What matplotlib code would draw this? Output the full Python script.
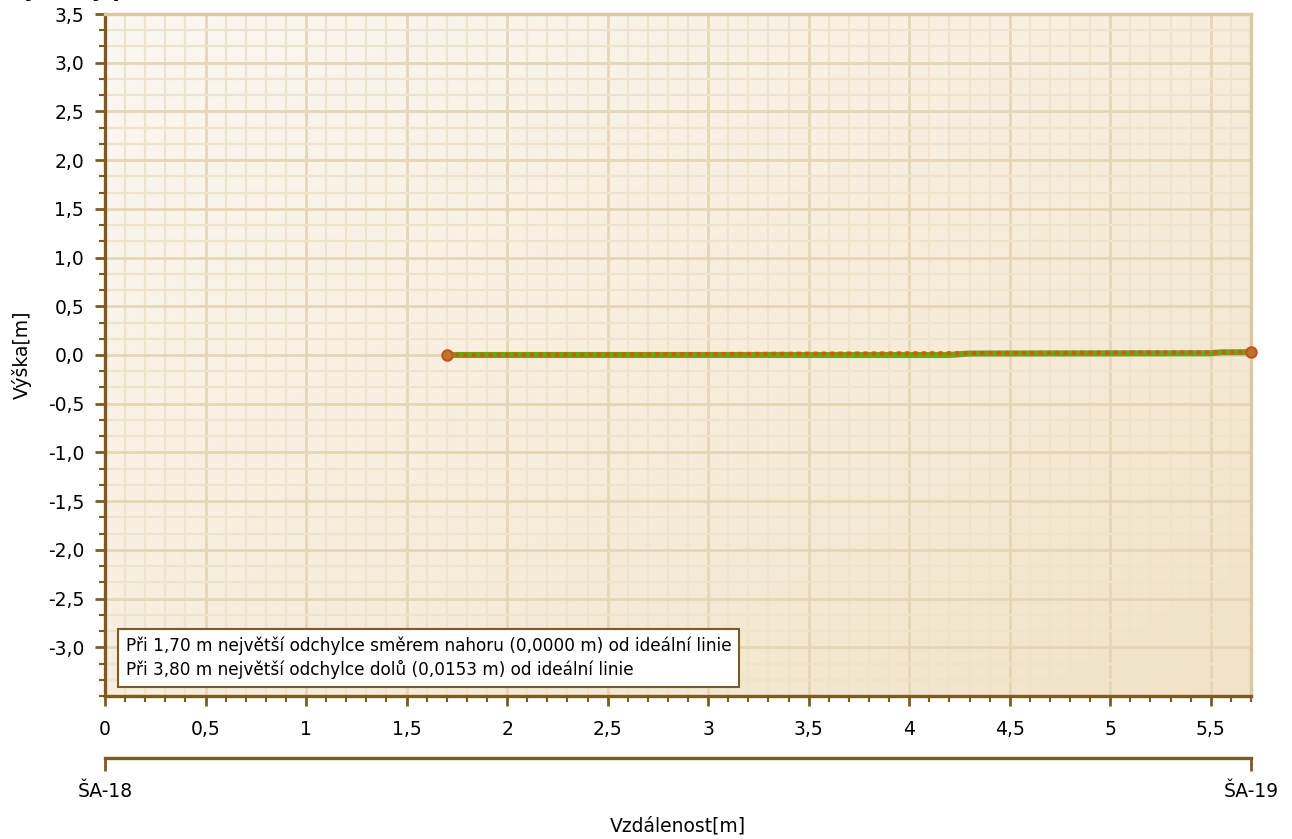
import numpy as np
import matplotlib
matplotlib.use("Agg")
import matplotlib.pyplot as plt
from matplotlib.ticker import FixedLocator, FuncFormatter, MultipleLocator
from matplotlib.colors import LinearSegmentedColormap

# ---- data ----
profile_x = [1.70, 4.20, 4.30, 5.50, 5.55, 5.70]
profile_y = [0.000, 0.000, 0.015, 0.018, 0.027, 0.029]
ideal_x = [1.70, 5.70]
ideal_y = [0.000, 0.029]
station_labels = ["ŠA-18", "ŠA-19"]
station_pos = [0.0, 5.7]
y_ticks = [-3.0, -2.5, -2.0, -1.5, -1.0, -0.5, 0.0, 0.5, 1.0, 1.5, 2.0, 2.5, 3.0, 3.5]
x_ticks = [0, 0.5, 1, 1.5, 2, 2.5, 3, 3.5, 4, 4.5, 5, 5.5]
info_lines = [
    "Při 1,70 m největší odchylce směrem nahoru (0,0000 m) od ideální linie",
    "Při 3,80 m největší odchylce dolů (0,0153 m) od ideální linie",
]
title = "Výškový profil"
xlabel = "Vzdálenost[m]"
ylabel = "Výška[m]"

plt.rcParams['font.family'] = ['DejaVu Sans']
W, H = 1292, 839
fig = plt.figure(figsize=(W / 100, H / 100), dpi=100)

L, R, T, B = 105, 1251, 14, 696
ax = fig.add_axes([L / W, 1 - B / H, (R - L) / W, (B - T) / H])
ax.set_xlim(0, 5.7)
ax.set_ylim(-3.5, 3.5)

# gradient background
n = 200
gx, gy = np.meshgrid(np.linspace(0, 1, n), np.linspace(0, 1, n))
g = (gx + gy) / 2
cmap = LinearSegmentedColormap.from_list("bg", ["#fbf8f2", "#f2e3c8"])
ax.imshow(g, cmap=cmap, extent=[0, 1, 0, 1], transform=ax.transAxes,
          aspect='auto', origin='upper', zorder=-10, interpolation='bilinear')

brown = "#7d5a22"
for s in ["left", "bottom"]:
    ax.spines[s].set_color(brown)
    ax.spines[s].set_linewidth(2.4)
for s in ["top", "right"]:
    ax.spines[s].set_color("#dcc9a2")
    ax.spines[s].set_linewidth(2.4)

ax.yaxis.set_major_locator(FixedLocator(y_ticks))
ax.yaxis.set_minor_locator(MultipleLocator(0.5 / 3))
ax.xaxis.set_major_locator(FixedLocator(x_ticks))
ax.xaxis.set_minor_locator(MultipleLocator(0.1))

def fmt_y(v, p):
    return ("%.1f" % v).replace(".", ",")

def fmt_x(v, p):
    return ("%g" % v).replace(".", ",")

ax.yaxis.set_major_formatter(FuncFormatter(fmt_y))
ax.xaxis.set_major_formatter(FuncFormatter(fmt_x))
ax.tick_params(axis='both', which='major', direction='out', length=7, width=2,
               color=brown, labelsize=13.5, pad=8)
ax.tick_params(axis='both', which='minor', direction='out', length=4, width=1.5,
               color=brown)
ax.tick_params(axis='x', which='major', pad=10)

ax.set_axisbelow(True)
ax.grid(True, which='major', color="#e6d6b5", linewidth=2.0)
ax.grid(True, which='minor', color="#efe3cb", linewidth=1.6)

# lines
ax.plot(profile_x, profile_y, color="#6aa812", linewidth=4.4, solid_capstyle='butt',
        zorder=3, clip_on=False)
ax.plot(ideal_x, ideal_y, color="#d9541e", linewidth=3.0, dashes=(1.0, 1.0),
        dash_capstyle='butt', zorder=4, clip_on=False)
ax.plot(ideal_x, ideal_y, linestyle='none', marker='o', markersize=7.5,
        markerfacecolor="#b8782c", markeredgecolor="#d24c1a", markeredgewidth=1.5,
        zorder=5, clip_on=False)

# info box
ax.text(21 / (R - L), 1 - (687 - T - 8) / (B - T), "\n".join(info_lines),
        transform=ax.transAxes, fontsize=12.2, va='bottom', ha='left',
        linespacing=1.35,
        bbox=dict(boxstyle='square,pad=0.45', facecolor='white', edgecolor=brown,
                  linewidth=1.5), zorder=6)

# station axis
ax2 = fig.add_axes([L / W, 1 - 758 / H, (R - L) / W, 0.0001])
ax2.set_xlim(0, 5.7)
ax2.patch.set_visible(False)
for s in ["left", "right", "top"]:
    ax2.spines[s].set_visible(False)
ax2.spines["bottom"].set_color(brown)
ax2.spines["bottom"].set_linewidth(2.4)
ax2.set_yticks([])
ax2.set_xticks(station_pos)
ax2.set_xticklabels(station_labels)
ax2.tick_params(axis='x', direction='out', length=9, width=2, color=brown,
                labelsize=13.5, pad=8)

fig.text((L + R) / 2 / W, 1 - 826 / H, xlabel, ha='center', va='center', fontsize=13.5)
fig.text(22 / W, 1 - 355 / H, ylabel, ha='center', va='center', rotation=90,
         fontsize=13.5)
fig.text(8 / W, 1 + 3 / H, title, ha='left', va='baseline', fontsize=15,
         fontweight='bold')

fig.savefig("out.png", dpi=100)
